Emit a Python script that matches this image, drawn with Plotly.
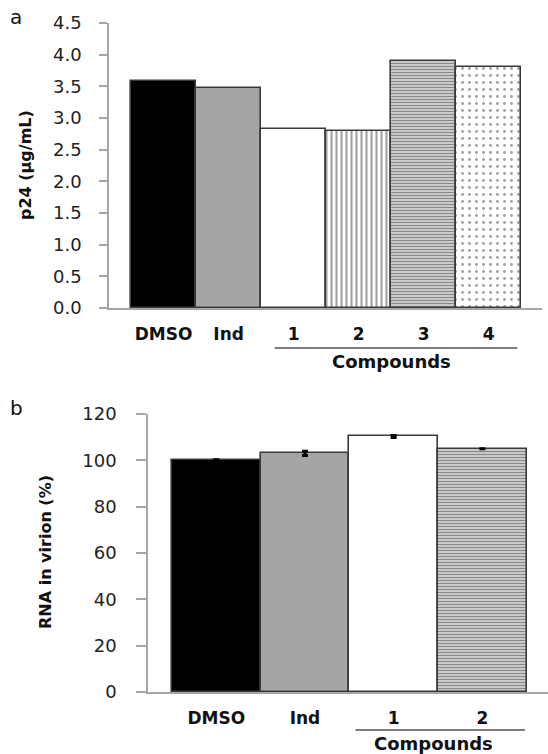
import plotly.graph_objects as go

W, H = 548, 754

# Panel a: p24 release
cats_a = ["DMSO", "Ind", "1", "2", "3", "4"]
p24 = [3.58, 3.47, 2.82, 2.80, 3.90, 3.81]
yticks_a = [0.0, 0.5, 1.0, 1.5, 2.0, 2.5, 3.0, 3.5, 4.0, 4.5]

# Panel b: RNA packaged in virions
cats_b = ["DMSO", "Ind", "1", "2"]
rna = [100.0, 103.0, 110.3, 105.0]
rna_err = [0.3, 0.9, 0.4, 0.0]
yticks_b = [0, 20, 40, 60, 80, 100, 120]

AX = "#a6a6a6"
EDGE = "#3a3a3a"
FONT = "DejaVu Sans"

# per-bar fills (solid black, grey, white, vertical lines, horizontal lines, dots)
fill_a = ["black", "#a5a5a5", "white", "white", "#d0d0d0", "white"]
shape_a = ["", "", "", "|", "-", "."]
fg_a = ["black", "#a5a5a5", "white", "#1e1e1e", "#454545", "#a8a8a8"]
bg_a = ["black", "#a5a5a5", "white", "white", "#d2d2d2", "white"]
size_a = [8, 8, 8, 5, 3, 7]
sol_a = [0.3, 0.3, 0.3, 0.42, 0.4, 0.14]

fill_b = ["black", "#a5a5a5", "white", "#d0d0d0"]
shape_b = ["", "", "", "-"]
fg_b = ["black", "#a5a5a5", "white", "#454545"]
bg_b = ["black", "#a5a5a5", "white", "#d2d2d2"]
size_b = [8, 8, 8, 3]
sol_b = [0.3, 0.3, 0.3, 0.4]

xr_a = [-0.84, 5.82]
xr_b = [-0.77, 3.74]
dom_xa = [109 / W, 542 / W]
dom_ya = [1 - 308 / H, 1 - 23 / H]
dom_xb = [148 / W, 1.0]
dom_yb = [1 - 692 / H, 1 - 414 / H]

fig = go.Figure()
fig.add_trace(go.Bar(
    x=cats_a, y=p24, xaxis="x", yaxis="y", width=1.0,
    marker=dict(color=fill_a, line=dict(color=EDGE, width=1.6),
                pattern=dict(shape=shape_a, fgcolor=fg_a, bgcolor=bg_a,
                             size=size_a, solidity=sol_a)),
    showlegend=False,
))
fig.add_trace(go.Bar(
    x=cats_b, y=rna, xaxis="x2", yaxis="y2", width=1.0,
    error_y=dict(type="data", array=rna_err, color="black", thickness=3, width=3),
    marker=dict(color=fill_b, line=dict(color=EDGE, width=1.6),
                pattern=dict(shape=shape_b, fgcolor=fg_b, bgcolor=bg_b,
                             size=size_b, solidity=sol_b)),
    showlegend=False,
))

xaxis_common = dict(
    type="category", showline=True, linecolor=AX, linewidth=1.5,
    ticks="", showgrid=False, zeroline=False, automargin=False,
    tickfont=dict(family=FONT, size=17, color="#111", weight="bold"),
)
yaxis_common = dict(
    showline=True, linecolor=AX, linewidth=1.5, ticks="outside",
    tickcolor=AX, tickwidth=1.5, showgrid=False, zeroline=False,
    automargin=False,
    tickfont=dict(family=FONT, size=18, color="#222"),
)

fig.update_layout(
    width=W, height=H, margin=dict(l=0, r=0, t=0, b=0),
    paper_bgcolor="white", plot_bgcolor="white", bargap=0,
    xaxis=dict(xaxis_common, domain=dom_xa, anchor="y", range=xr_a,
               ticklabelstandoff=10),
    yaxis=dict(yaxis_common, domain=dom_ya, anchor="x", range=[0, 4.5],
               tickvals=yticks_a, tickformat=".1f", ticklen=8,
               ticklabelstandoff=14),
    xaxis2=dict(xaxis_common, domain=dom_xb, anchor="y2", range=xr_b,
                ticklabelstandoff=10),
    yaxis2=dict(yaxis_common, domain=dom_yb, anchor="x2", range=[0, 120],
                tickvals=yticks_b, ticklen=10, ticklabelstandoff=16),
)


def dom_frac(v, rng):
    return (v - rng[0]) / (rng[1] - rng[0])


# bracket lines under the compound groups
fig.add_shape(type="line", xref="x domain", yref="y domain",
              x0=dom_frac(1.71, xr_a), x1=dom_frac(5.44, xr_a),
              y0=-40 / 285, y1=-40 / 285, line=dict(color="#555", width=1.5))
fig.add_shape(type="line", xref="x2 domain", yref="y2 domain",
              x0=dom_frac(1.57, xr_b), x1=dom_frac(3.48, xr_b),
              y0=-38 / 278, y1=-38 / 278, line=dict(color="#555", width=1.5))


def label(text, x, y, size, bold=True, angle=0, xref="paper"):
    fig.add_annotation(
        text=text, xref=xref, yref="paper", x=x, y=y, textangle=angle,
        xanchor="center", yanchor="middle", showarrow=False,
        font=dict(family=FONT, size=size, color="#111",
                  weight="bold" if bold else "normal"),
    )


label("Compounds", 3.5, 1 - 361 / H, 18, xref="x")
label("Compounds", 2.45, 1 - 743 / H, 18, xref="x2")

# y-axis titles
label("p24 (µg/mL)", 25 / W, 1 - 165 / H, 16, angle=-90)
label("RNA in virion (%)", 45 / W, 1 - 552 / H, 16, angle=-90)

# panel letters
label("a", 16 / W, 1 - 17 / H, 20, bold=False)
label("b", 16 / W, 1 - 408 / H, 20, bold=False)

fig.write_html("out.html")
